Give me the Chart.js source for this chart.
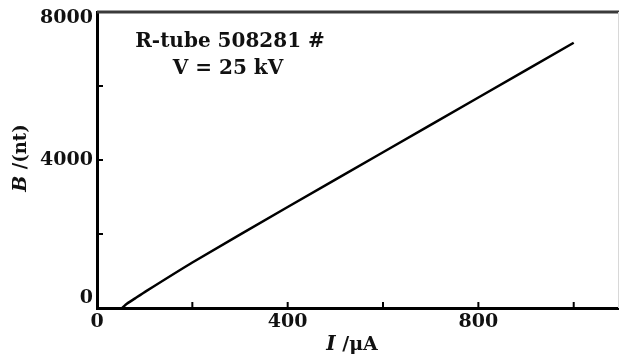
<!DOCTYPE html>
<html>
<head>
  <meta charset="UTF-8">
  <title>R-tube B vs I</title>
  <script src="https://cdn.jsdelivr.net/npm/chart.js"></script>
  <style>
    html, body { margin: 0; padding: 0; background: #fff; }
    .chart-container { position: relative; width: 619px; height: 354px; }
  </style>
</head>
<body>
  <div class="chart-container">
    <canvas id="bChart"></canvas>
  </div>
  <script>
    // beam current (uA) and brightness (nt)
    const currentUA = [53, 60, 80, 100, 200, 400, 600, 800, 1000];
    const brightnessNt = [0, 90, 260, 430, 1230, 2730, 4210, 5690, 7170];

    const xTickValues = [0, 200, 400, 600, 800, 1000];
    const xTickLabels = ["0", "", "400", "", "800", ""];
    const yTickValues = [0, 2000, 4000, 6000, 8000];
    const yTickLabels = ["0", "", "4000", "", "8000"];

    const noteLines = ["R-tube 508281 #", "V = 25 kV"];

    const serif = '"DejaVu Serif", "Liberation Serif", serif';

    // draws a string made of [text, font] parts, centred on x
    function drawParts(ctx, parts, cx, y) {
      let total = 0;
      parts.forEach((p) => {
        ctx.font = p[1];
        total += ctx.measureText(p[0]).width;
      });
      let sx = cx - total / 2;
      parts.forEach((p) => {
        ctx.font = p[1];
        ctx.fillText(p[0], sx, y);
        sx += ctx.measureText(p[0]).width;
      });
    }

    // frame, inner ticks, labels and notes
    const framePlugin = {
      id: "frame",
      afterDraw(chart) {
        const ctx = chart.ctx;
        const area = chart.chartArea;
        const xs = chart.scales.x;
        const ys = chart.scales.y;
        ctx.save();

        // top and right edges
        ctx.strokeStyle = "#3a3a3a";
        ctx.lineWidth = 3;
        ctx.beginPath();
        ctx.moveTo(area.left, area.top);
        ctx.lineTo(area.right + 2, area.top);
        ctx.stroke();
        ctx.strokeStyle = "#d8d8d8";
        ctx.lineWidth = 1;
        ctx.beginPath();
        ctx.moveTo(area.right - 0.5, area.top);
        ctx.lineTo(area.right - 0.5, area.bottom);
        ctx.stroke();

        // inner ticks
        ctx.strokeStyle = "#000";
        ctx.lineWidth = 2;
        xTickValues.forEach((v) => {
          if (v === 0) return;
          const px = xs.getPixelForValue(v);
          ctx.beginPath();
          ctx.moveTo(px, area.bottom);
          ctx.lineTo(px, area.bottom - 6);
          ctx.stroke();
        });
        yTickValues.forEach((v) => {
          if (v === 0 || v === 8000) return;
          const py = ys.getPixelForValue(v);
          ctx.beginPath();
          ctx.moveTo(area.left, py);
          ctx.lineTo(area.left + 6, py);
          ctx.stroke();
        });

        // tick labels
        ctx.fillStyle = "#111";
        ctx.font = "bold 19px " + serif;
        ctx.textAlign = "center";
        ctx.textBaseline = "middle";
        xTickValues.forEach((v, i) => {
          if (!xTickLabels[i]) return;
          ctx.fillText(xTickLabels[i], xs.getPixelForValue(v), area.bottom + 14);
        });
        ctx.textAlign = "right";
        yTickValues.forEach((v, i) => {
          if (!yTickLabels[i]) return;
          let py = ys.getPixelForValue(v);
          if (v === 0) py -= 10;
          if (v === 8000) py += 6;
          ctx.fillText(yTickLabels[i], area.left - 4, py);
        });

        // axis titles
        ctx.textAlign = "left";
        drawParts(ctx, [["I", "italic bold 20px " + serif], [" /\u03bcA", "bold 19px " + serif]], 352, area.bottom + 37);

        ctx.save();
        ctx.translate(21, 158);
        ctx.rotate(-Math.PI / 2);
        drawParts(ctx, [["B", "italic bold 19px " + serif], [" /(nt)", "bold 18px " + serif]], 0, 0);
        ctx.restore();

        // notes
        ctx.textAlign = "center";
        ctx.font = "bold 20px " + serif;
        ctx.fillText(noteLines[0], 230, 42);
        ctx.fillText(noteLines[1], 228, 69);

        ctx.restore();
      },
    };

    new Chart(document.getElementById("bChart"), {
      type: "scatter",
      data: {
        datasets: [
          {
            data: currentUA.map((x, i) => ({ x: x, y: brightnessNt[i] })),
            showLine: true,
            borderColor: "#000",
            borderWidth: 2.5,
            pointRadius: 0,
            tension: 0.2,
          },
        ],
      },
      options: {
        responsive: true,
        maintainAspectRatio: false,
        animation: false,
        layout: { padding: { left: 97, top: 12, right: 0, bottom: 46 } },
        plugins: { legend: { display: false }, tooltip: { enabled: false } },
        scales: {
          x: {
            type: "linear",
            min: 0,
            max: 1095,
            ticks: { display: false },
            grid: { display: false, drawTicks: false },
            border: { display: true, color: "#000", width: 3 },
          },
          y: {
            type: "linear",
            min: 0,
            max: 8000,
            ticks: { display: false },
            grid: { display: false, drawTicks: false },
            border: { display: true, color: "#000", width: 3 },
          },
        },
      },
      plugins: [framePlugin],
    });
  </script>
</body>
</html>
